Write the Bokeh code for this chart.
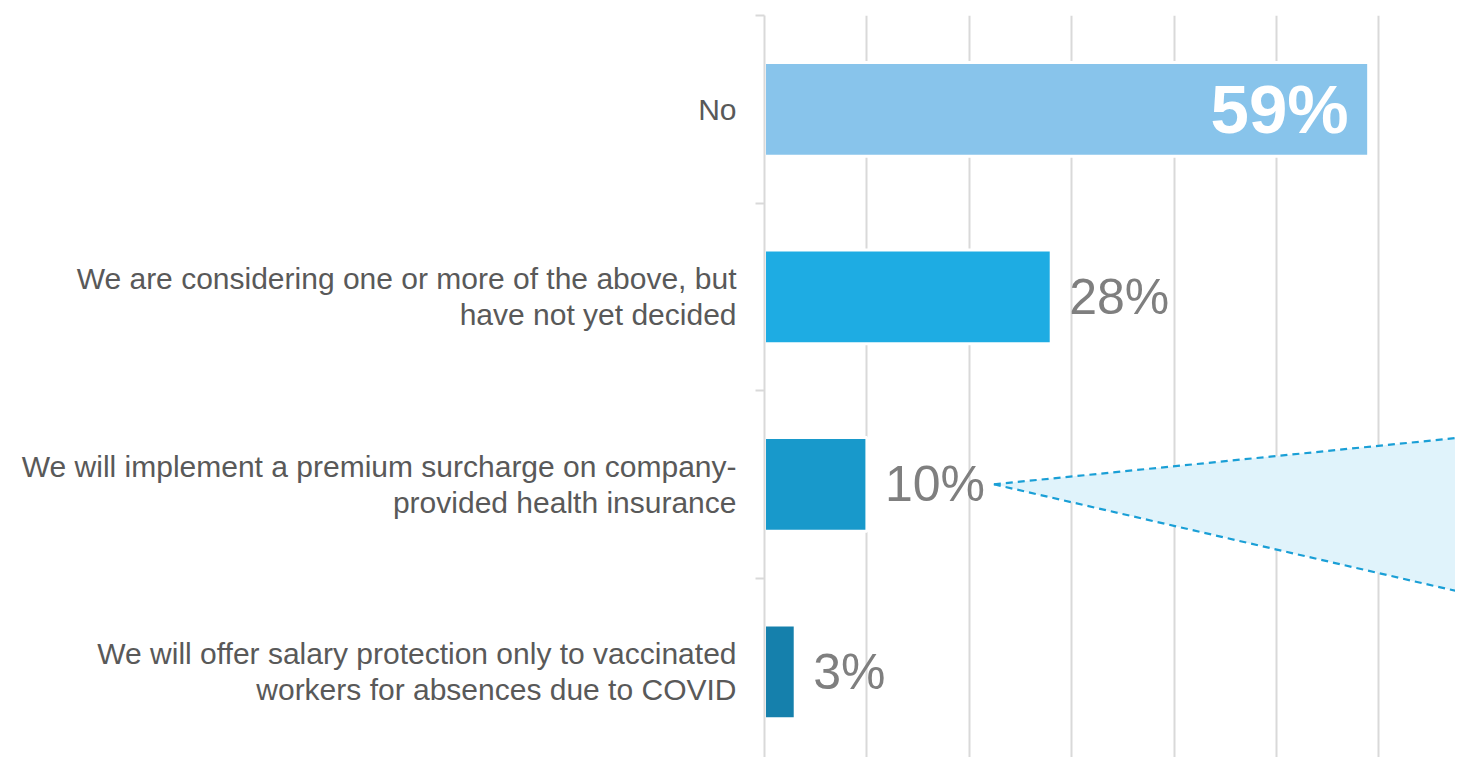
from bokeh.plotting import figure
from bokeh.models import Range1d, FixedTicker, ColumnDataSource
from bokeh.core.properties import value
from bokeh.embed import file_html
from bokeh.resources import INLINE

categories = [
    "No",
    "We are considering one or more of the above, but\nhave not yet decided",
    "We will implement a premium surcharge on company-\nprovided health insurance",
    "We will offer salary protection only to vaccinated\nworkers for absences due to COVID",
]
values = [59, 28, 10, 3]
labels = ["59%", "28%", "10%", "3%"]
colors = ["#88c4eb", "#1eace3", "#1899cb", "#1580ac"]
x_ticks = [0, 10, 20, 30, 40, 50, 60]

# callout wedge (data units): apex next to the "10%" label, opening to the right
callout_x = [22.4, 70.0, 70.0]
callout_y = [2.5, 2.24, 3.1]

positions = [i + 0.5 for i in range(len(categories))]

p = figure(width=1455, height=757, output_backend="svg", toolbar_location=None,
           x_range=Range1d(0, 67.48), y_range=Range1d(3.957, 0))
p.min_border_left = 764
p.min_border_right = 0
p.min_border_top = 15
p.min_border_bottom = 0
p.outline_line_color = None
p.background_fill_color = "white"
p.border_fill_color = "white"

p.xaxis.visible = False
p.xgrid.ticker = FixedTicker(ticks=x_ticks)
p.xgrid.grid_line_color = "#d9d9d9"
p.xgrid.grid_line_width = 2
p.ygrid.visible = False

ax = p.yaxis[0]
ax.ticker = FixedTicker(ticks=positions, minor_ticks=[0, 1, 2, 3, 4])
ax.major_label_overrides = {pos: c for pos, c in zip(positions, categories)}
ax.major_tick_out = 0
ax.major_tick_in = 0
ax.minor_tick_out = 9
ax.minor_tick_in = 0
ax.minor_tick_line_color = "#d9d9d9"
ax.minor_tick_line_width = 2
ax.axis_line_color = "#d9d9d9"
ax.axis_line_width = 2
ax.major_label_standoff = 19
ax.major_label_text_font = "Liberation Sans"
ax.major_label_text_font_size = "30px"
ax.major_label_text_color = "#595959"
ax.major_label_text_line_height = 1.1

src = ColumnDataSource(dict(y=positions, v=values, c=colors, lab=labels))

# callout
p.patch(callout_x, callout_y, fill_color="#e0f3fb", fill_alpha=1.0, line_color=None)
p.line(callout_x[:2], callout_y[:2], line_color="#1a9fd6", line_width=2.2, line_dash="7 5")
p.line([callout_x[0], callout_x[2]], [callout_y[0], callout_y[2]], line_color="#1a9fd6",
       line_width=2.2, line_dash="7 5")

p.hbar(y="y", right="v", left=0, height=0.5, fill_color="c", line_color="white",
       line_width=3, source=src)

# outside labels (all but first)
out = ColumnDataSource(dict(y=positions[1:], v=values[1:], lab=labels[1:]))
p.text(x="v", y="y", text="lab", source=out, x_offset=18, text_baseline="middle",
       text_align="left", text_font=value("Liberation Sans"), text_font_size="50px",
       text_color="#7f7f7f")
inn = ColumnDataSource(dict(y=positions[:1], v=values[:1], lab=labels[:1]))
p.text(x="v", y="y", text="lab", source=inn, x_offset=-20, text_baseline="middle",
       text_align="right", text_font=value("Liberation Sans"), text_font_size="69px",
       text_font_style="bold", text_color="white")

open("out.html", "w").write(file_html(p, INLINE))
